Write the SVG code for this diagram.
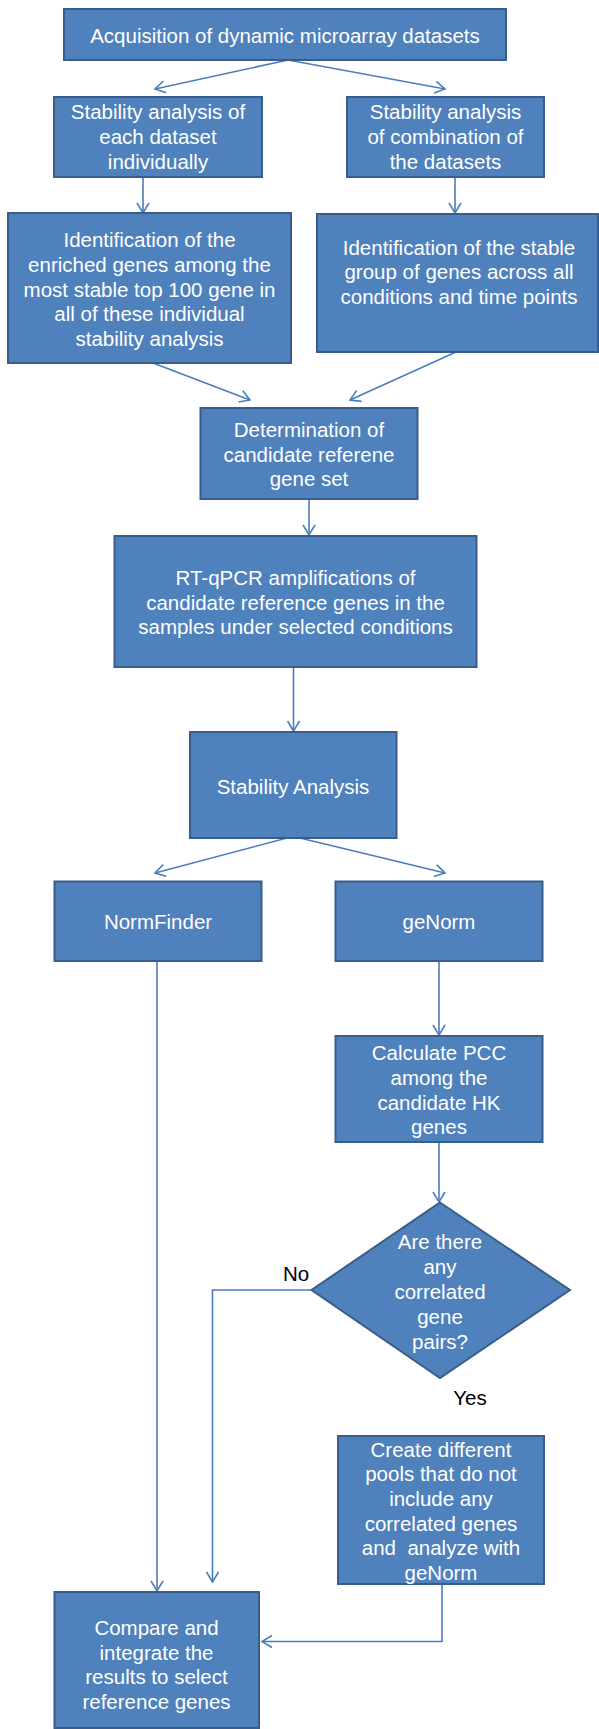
<svg xmlns="http://www.w3.org/2000/svg" width="599" height="1729" viewBox="0 0 599 1729">
<style>
.box{fill:#4F81BD;stroke:#385D8A;stroke-width:2}
.t{font-family:"Liberation Sans",Arial,sans-serif;font-size:20.5px;fill:#FFFFFF;text-anchor:middle}
.lbl{font-family:"Liberation Sans",Arial,sans-serif;font-size:20.5px;fill:#000000;text-anchor:middle}
.c{fill:none;stroke:#4A7EBB;stroke-width:1.6}
</style>
<defs>
<marker id="ah" markerUnits="userSpaceOnUse" markerWidth="14" markerHeight="16" refX="11" refY="7" orient="auto" viewBox="0 0 14 14">
<path d="M1,1 L11,7 L1,13" fill="none" stroke="#4A7EBB" stroke-width="1.6"/>
</marker>
</defs>
<rect width="599" height="1729" fill="#FFFFFF"/>
<g id="connectors">
<line class="c" x1="288" y1="60" x2="155" y2="89" marker-end="url(#ah)"/>
<line class="c" x1="288" y1="60" x2="445" y2="89" marker-end="url(#ah)"/>
<line class="c" x1="143" y1="177" x2="143" y2="213" marker-end="url(#ah)"/>
<line class="c" x1="455" y1="177" x2="455" y2="213" marker-end="url(#ah)"/>
<line class="c" x1="153" y1="363" x2="250" y2="400" marker-end="url(#ah)"/>
<line class="c" x1="456" y1="352" x2="350" y2="400" marker-end="url(#ah)"/>
<line class="c" x1="309" y1="499" x2="309" y2="535" marker-end="url(#ah)"/>
<line class="c" x1="293.5" y1="667" x2="293.5" y2="731" marker-end="url(#ah)"/>
<line class="c" x1="287" y1="838" x2="155" y2="873" marker-end="url(#ah)"/>
<line class="c" x1="300" y1="838" x2="445" y2="873" marker-end="url(#ah)"/>
<line class="c" x1="157" y1="961" x2="157" y2="1591" marker-end="url(#ah)"/>
<line class="c" x1="439" y1="961" x2="439" y2="1035" marker-end="url(#ah)"/>
<line class="c" x1="439" y1="1142" x2="439" y2="1202" marker-end="url(#ah)"/>
<polyline class="c" points="312,1290 212.5,1290 212.5,1582" marker-end="url(#ah)"/>
<polyline class="c" points="442,1584 442,1641.5 262,1641.5" marker-end="url(#ah)"/>
</g>
<g id="n1">
<rect class="box" x="64" y="9" width="442" height="51"/>
<text class="t" x="285" y="43">Acquisition of dynamic microarray datasets</text>
</g>
<g id="n2">
<rect class="box" x="54" y="97" width="208" height="80"/>
<text class="t" x="158" y="119">Stability analysis of</text>
<text class="t" x="158" y="144">each dataset</text>
<text class="t" x="158" y="169">individually</text>
</g>
<g id="n3">
<rect class="box" x="347" y="97" width="197" height="80"/>
<text class="t" x="445.5" y="119">Stability analysis</text>
<text class="t" x="445.5" y="144">of combination of</text>
<text class="t" x="445.5" y="169">the datasets</text>
</g>
<g id="n4">
<rect class="box" x="8" y="213" width="283" height="150"/>
<text class="t" x="149.5" y="247">Identification of the</text>
<text class="t" x="149.5" y="272">enriched genes among the</text>
<text class="t" x="149.5" y="297">most stable top 100 gene in</text>
<text class="t" x="149.5" y="321">all of these individual</text>
<text class="t" x="149.5" y="346">stability analysis</text>
</g>
<g id="n5">
<rect class="box" x="317" y="214" width="281" height="138"/>
<text class="t" x="459" y="255">Identification of the stable</text>
<text class="t" x="459" y="279">group of genes across all</text>
<text class="t" x="459" y="304">conditions and time points</text>
</g>
<g id="n6">
<rect class="box" x="200.5" y="408" width="217" height="91"/>
<text class="t" x="309" y="437">Determination of</text>
<text class="t" x="309" y="462">candidate referene</text>
<text class="t" x="309" y="486">gene set</text>
</g>
<g id="n7">
<rect class="box" x="114.5" y="536" width="362" height="131"/>
<text class="t" x="295.5" y="585">RT-qPCR amplifications of</text>
<text class="t" x="295.5" y="610">candidate reference genes in the</text>
<text class="t" x="295.5" y="634">samples under selected conditions</text>
</g>
<g id="n8">
<rect class="box" x="190" y="732" width="206.5" height="106"/>
<text class="t" x="293" y="794">Stability Analysis</text>
</g>
<g id="n9">
<rect class="box" x="54.5" y="881.5" width="207" height="79.5"/>
<text class="t" x="158" y="929">NormFinder</text>
</g>
<g id="n10">
<rect class="box" x="335.5" y="881.5" width="207" height="79.5"/>
<text class="t" x="439" y="929">geNorm</text>
</g>
<g id="n11">
<rect class="box" x="335.5" y="1036" width="207" height="106"/>
<text class="t" x="439" y="1060">Calculate PCC</text>
<text class="t" x="439" y="1085">among the</text>
<text class="t" x="439" y="1110">candidate HK</text>
<text class="t" x="439" y="1134">genes</text>
</g>
<g id="n12">
<polygon class="box" points="440,1202.5 570,1290 440,1378 311.5,1290"/>
<text class="t" x="440" y="1249">Are there</text>
<text class="t" x="440" y="1274">any</text>
<text class="t" x="440" y="1299">correlated</text>
<text class="t" x="440" y="1324">gene</text>
<text class="t" x="440" y="1349">pairs?</text>
</g>
<g id="labels">
<text class="lbl" x="296" y="1281">No</text>
<text class="lbl" x="470" y="1405">Yes</text>
</g>
<g id="n13">
<rect class="box" x="338" y="1436" width="206" height="148"/>
<text class="t" x="441" y="1457">Create different</text>
<text class="t" x="441" y="1481">pools that do not</text>
<text class="t" x="441" y="1506">include any</text>
<text class="t" x="441" y="1531">correlated genes</text>
<text class="t" x="441" y="1555" xml:space="preserve">and  analyze with</text>
<text class="t" x="441" y="1580">geNorm</text>
</g>
<g id="n14">
<rect class="box" x="54.5" y="1592" width="204.5" height="136"/>
<text class="t" x="156.5" y="1635">Compare and</text>
<text class="t" x="156.5" y="1660">integrate the</text>
<text class="t" x="156.5" y="1684">results to select</text>
<text class="t" x="156.5" y="1709">reference genes</text>
</g>
</svg>
